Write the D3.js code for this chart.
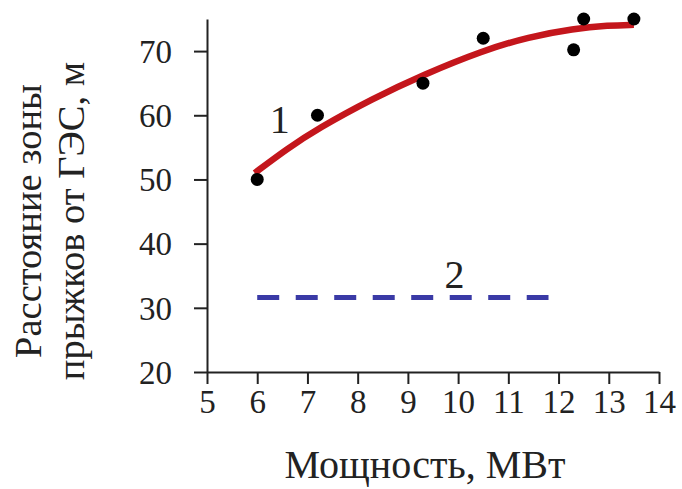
<!DOCTYPE html>
<html>
<head>
<meta charset="utf-8">
<script src="https://cdn.jsdelivr.net/npm/d3@7"></script>
<style>
  body { margin: 0; background: #fff; }
  svg { font-family: 'Liberation Serif', 'DejaVu Serif', serif; }
  .axis path, .axis line { stroke: #222; stroke-width: 2; }
  .axis text { font-size: 33px; fill: #222; font-family: 'Liberation Serif', serif; }
</style>
</head>
<body>
<div id="chart"></div>
<script>
// measured points
const powerMW = [6, 7.2, 9.3, 10.5, 12.3, 12.5, 13.5]
const distanceM = [50, 60, 65, 72, 70.2, 75, 75]

// trend line 1
const trendX = [5.95, 6.6, 7.2, 8.3, 9.3, 10.5, 11.4, 12.3, 13, 13.5]
const trendY = [51.0, 54.8, 57.9, 62.6, 66.3, 70.1, 72.2, 73.5, 74.0, 74.1]

// line 2 (dashed)
const line2X = [6, 11.8]
const line2Y = [31.6, 31.6]

const xTicks = [5, 6, 7, 8, 9, 10, 11, 12, 13, 14]
const yTicks = [20, 30, 40, 50, 60, 70]

const margin = { top: 19, left: 207, right: 23, bottom: 117 }
const width = 682 - margin.left - margin.right
const height = 489 - margin.top - margin.bottom

const svg = d3
  .select('#chart')
  .append('svg')
  .attr('width', 682)
  .attr('height', 489)

const g = svg
  .append('g')
  .attr('transform', 'translate(' + margin.left + ',' + margin.top + ')')

const xPositionScale = d3.scaleLinear().domain([5, 14]).range([0, width])
const yPositionScale = d3.scaleLinear().domain([20, 75]).range([height, 0])

// axes
const xAxis = d3
  .axisBottom(xPositionScale)
  .tickValues(xTicks)
  .tickSize(12)
  .tickSizeOuter(0)
  .tickPadding(6)
  .tickFormat(d3.format('d'))
g.append('g')
  .attr('class', 'axis x-axis')
  .attr('transform', 'translate(0,' + height + ')')
  .call(xAxis)

const yAxis = d3
  .axisLeft(yPositionScale)
  .tickValues(yTicks)
  .tickSize(13)
  .tickSizeOuter(0)
  .tickPadding(22)
  .tickFormat(d3.format('d'))
g.append('g')
  .attr('class', 'axis y-axis')
  .call(yAxis)

g.selectAll('.y-axis text').attr('dy', '0.34em')

// dashed line 2
const line = d3
  .line()
  .x(d => xPositionScale(d[0]))
  .y(d => yPositionScale(d[1]))

g.append('path')
  .datum(d3.zip(line2X, line2Y))
  .attr('d', line)
  .attr('fill', 'none')
  .attr('stroke', '#3a3aa6')
  .attr('stroke-width', 5)
  .attr('stroke-dasharray', '22,16.5')

// trend line 1
g.append('path')
  .datum(d3.zip(trendX, trendY))
  .attr('d', line.curve(d3.curveBasis))
  .attr('fill', 'none')
  .attr('stroke', '#c4161c')
  .attr('stroke-width', 6.5)
  .attr('stroke-linecap', 'butt')

// points
g.selectAll('circle')
  .data(d3.zip(powerMW, distanceM))
  .enter()
  .append('circle')
  .attr('r', 6.5)
  .attr('cx', d => xPositionScale(d[0]))
  .attr('cy', d => yPositionScale(d[1]))
  .attr('fill', '#000')

// curve labels
g.append('text')
  .attr('x', xPositionScale(6.45))
  .attr('y', yPositionScale(57.2))
  .attr('text-anchor', 'middle')
  .attr('font-size', 40)
  .attr('fill', '#222')
  .text('1')

g.append('text')
  .attr('x', xPositionScale(9.93))
  .attr('y', yPositionScale(33.1))
  .attr('text-anchor', 'middle')
  .attr('font-size', 40)
  .attr('fill', '#222')
  .text('2')

// axis titles
svg.append('text')
  .attr('x', 425)
  .attr('y', 478)
  .attr('text-anchor', 'middle')
  .attr('font-size', 40)
  .attr('fill', '#222')
  .text('Мощность, МВт')

const yTitle = svg
  .append('text')
  .attr('transform', 'translate(41,221) rotate(-90)')
  .attr('text-anchor', 'middle')
  .attr('font-size', 38.5)
  .attr('fill', '#222')

yTitle.append('tspan').attr('x', 0).attr('y', 0).text('Расстояние зоны')
yTitle.append('tspan').attr('x', 0).attr('y', 43).text('прыжков от ГЭС, м')
</script>
</body>
</html>
